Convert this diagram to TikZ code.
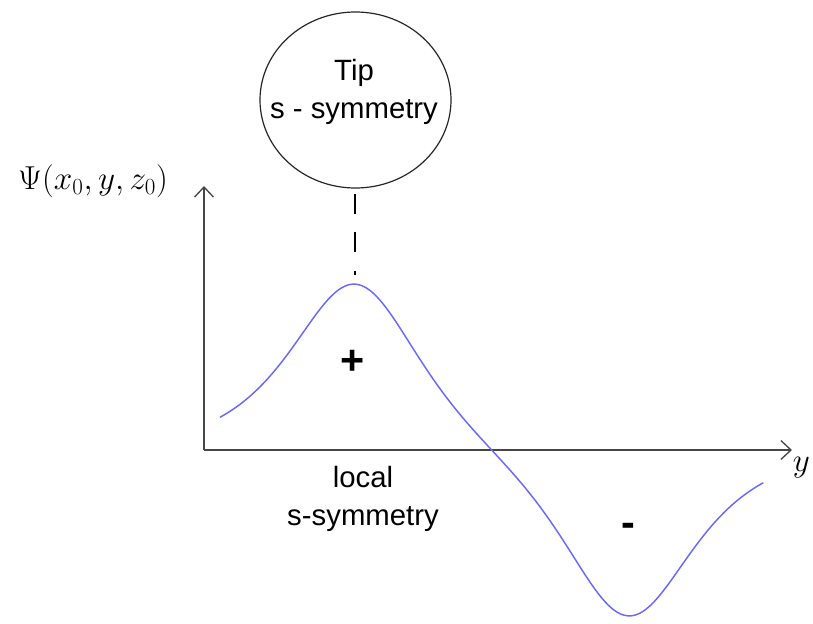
\documentclass[tikz,border=0pt]{standalone}
\usepackage{fontspec}
\setmainfont{Liberation Sans}
\usetikzlibrary{shapes.geometric,arrows.meta}
\definecolor{curveblue}{RGB}{105,105,250}
\definecolor{axisgray}{RGB}{70,70,70}
\begin{document}
\begin{tikzpicture}[x=0.75pt,y=-0.75pt,
  axisline/.style={draw=axisgray,line width=1.4pt,-{Straight Barb[length=7.5pt,width=14pt,line width=1pt]}},
  bigtext/.style={font=\fontsize{22}{28}\selectfont,align=center,inner sep=0pt},
  signtext/.style={font=\fontsize{31}{36}\selectfont\bfseries,inner sep=0pt,anchor=base},
  wave/.style={draw=curveblue,line width=1.1pt}]
\useasboundingbox (0,0) rectangle (813,624);
% tip circle
\node[draw=black!85,line width=0.9pt,ellipse,minimum width=191*0.75pt,minimum height=176*0.75pt,inner sep=0pt] (tip) at (355.5,100) {};
\node[bigtext] (tiptext) at (354,92) {Tip\\s - symmetry};
% axes
\coordinate (origin) at (204,450);
\coordinate (ytop) at (204,186);
\coordinate (xend) at (792,450);
\draw[axisline] (origin) -- (ytop);
\draw[axisline] (origin) -- (xend);
\node[inner sep=0pt,font=\fontsize{24}{28}\selectfont] (psilabel) at (93,181) {$\Psi(x_0,y,z_0)$};
\node[inner sep=0pt,font=\fontsize{38}{42}\selectfont] (ylabel) at (801.5,468) {$y$};
% wave
\draw[wave] plot[domain=220:763.3,samples=220,smooth]
  (\x,{450-169*(2/(exp(0.01715*(\x-355))+exp(-0.01715*(\x-355))) - 2/(exp(0.01715*(\x-628.3))+exp(-0.01715*(\x-628.3))))});
\coordinate (peak) at (355,284);
\draw[black,line width=1.5pt,dash pattern=on 15pt off 13.9pt,shorten <=3.75pt,shorten >=6.75pt] (tip.south -| peak) -- (peak);
% signs
\node[signtext] (plus) at (353,374) {+};
\node[signtext] (minus) at (628,536) {-};
\node[bigtext] (local) at (363,499) {local\\s-symmetry};
\end{tikzpicture}
\end{document}
